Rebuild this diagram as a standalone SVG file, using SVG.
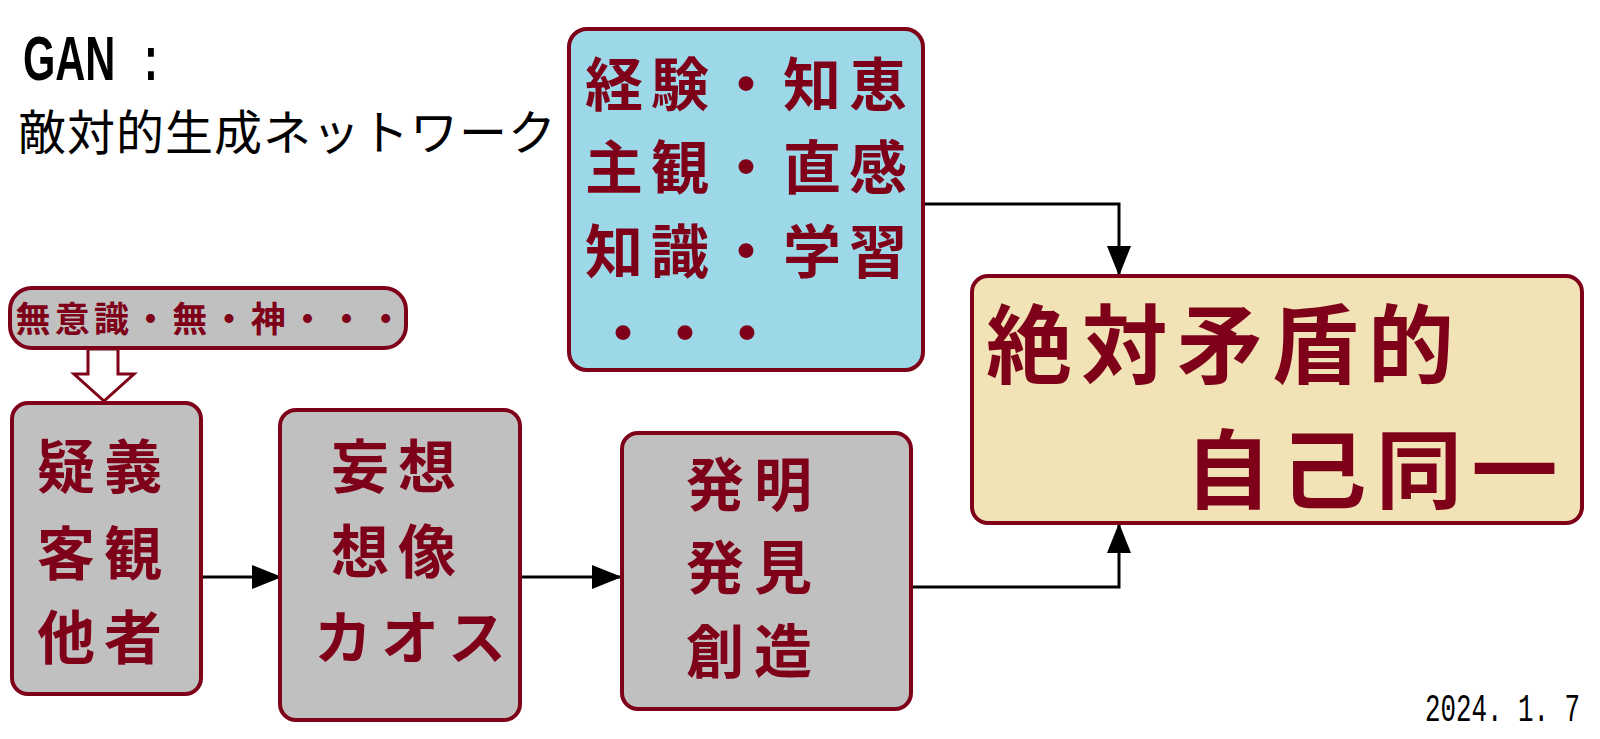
<svg xmlns="http://www.w3.org/2000/svg" width="1600" height="739" viewBox="0 0 1600 739">
<style>
.box{stroke:#7f0019;stroke-width:4}
.gray{fill:#c0c0c0}
.jp{font-family:"Noto Sans CJK JP","Noto Sans",sans-serif;font-weight:700;fill:#7f0019}
.ttl{font-family:"Noto Sans CJK JP","Noto Sans",sans-serif;fill:#000}
.con{fill:none;stroke:#000;stroke-width:3}
</style>
<defs>
<marker id="ah" markerUnits="userSpaceOnUse" markerWidth="32" markerHeight="24" refX="30" refY="12" orient="auto">
<path d="M0,0 L30,12 L0,24 Z" fill="#000"/>
</marker>
</defs>
<rect width="1600" height="739" fill="#fff"/>
<g id="title">
<text transform="translate(23,80) scale(0.66,1)" font-family="Liberation Sans" font-weight="700" font-size="63" xml:space="preserve">GAN <tspan dx="26">:</tspan></text>
<text class="ttl" x="18" y="150" font-size="48" letter-spacing="1">敵対的生成ネットワーク</text>
</g>
<g id="connectors">
<path class="con" d="M201 577 H282" marker-end="url(#ah)"/>
<path class="con" d="M520 577 H622" marker-end="url(#ah)"/>
<path class="con" d="M911 587 H1119 V523" marker-end="url(#ah)"/>
<path class="con" d="M923 204 H1119 V276" marker-end="url(#ah)"/>
<polygon points="88,349 118,349 118,374 134,374 104,401 74,374 88,374" fill="#fff" stroke="#7f0019" stroke-width="3"/>
</g>
<g id="n-blue">
<rect class="box" x="569" y="29" width="354" height="341" rx="18" fill="#9dd8e9"/>
<text class="jp" font-size="58" letter-spacing="8"><tspan x="585" y="106">経験・知恵</tspan><tspan x="585" y="189">主観・直感</tspan><tspan x="585" y="273">知識・学習</tspan></text>
<text class="jp" x="594" y="355" font-size="58" letter-spacing="4">・・・</text>
</g>
<g id="n-unconscious">
<rect class="box" x="10" y="288" width="396" height="60" rx="22" fill="#c0c0c0" stroke-width="3"/>
<text class="jp" font-size="35" letter-spacing="4.2" x="15.5" y="332">無意識・無・神・・・</text>
</g>
<g id="n-doubt">
<rect class="box gray" x="12" y="403" width="189" height="291" rx="16"/>
<text class="jp" font-size="58" letter-spacing="9"><tspan x="37" y="488">疑義</tspan><tspan x="37" y="575">客観</tspan><tspan x="37" y="659">他者</tspan></text>
</g>
<g id="n-fantasy">
<rect class="box gray" x="280" y="410" width="240" height="310" rx="16"/>
<text class="jp" font-size="58" letter-spacing="9"><tspan x="331" y="488">妄想</tspan><tspan x="331" y="573">想像</tspan><tspan x="314" y="659">カオス</tspan></text>
</g>
<g id="n-invention">
<rect class="box gray" x="622" y="433" width="289" height="276" rx="16"/>
<text class="jp" font-size="58" letter-spacing="10"><tspan x="686" y="506">発明</tspan><tspan x="686" y="589">発見</tspan><tspan x="686" y="673">創造</tspan></text>
</g>
<g id="n-identity">
<rect class="box" x="972" y="276" width="610" height="247" rx="16" fill="#f1e3b5"/>
<text class="jp" font-size="86" letter-spacing="9.5"><tspan x="986" y="377">絶対矛盾的</tspan><tspan x="1185" y="502">自己同一</tspan></text>
</g>
<g id="date">
<text transform="translate(1425,721) scale(0.68,1)" font-family="Liberation Mono" font-size="38" xml:space="preserve">2024. 1. 7</text>
</g>
</svg>
